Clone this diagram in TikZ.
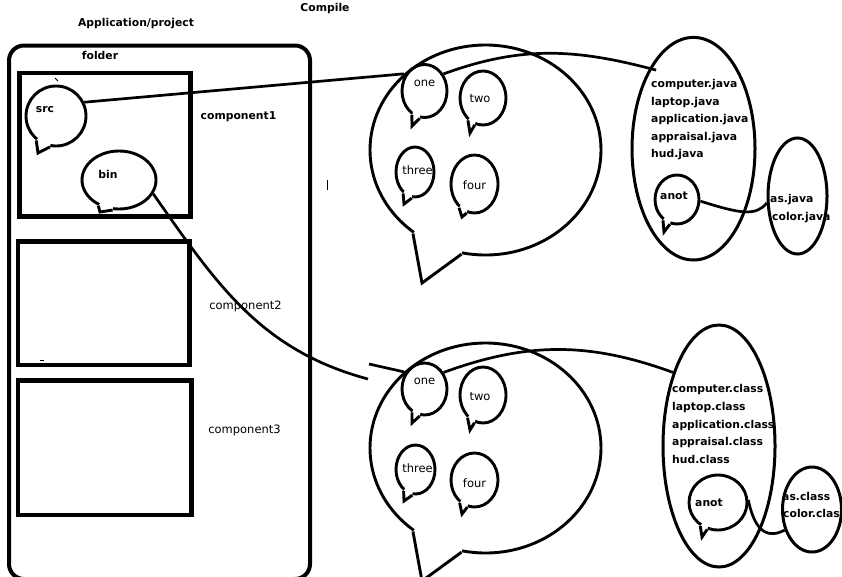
\documentclass[tikz,border=0pt]{standalone}
\usepackage{fontspec}
\setmainfont{DejaVu Sans}
\usetikzlibrary{shapes.geometric}

\tikzset{
  bubble/.style={draw, ellipse, line width=2.9pt, inner sep=0pt},
  conn/.style={line width=2.7pt},
  boldtxt/.style={font=\bfseries\fontsize{10.8}{13}\selectfont, inner sep=0pt},
  normtxt/.style={font=\fontsize{11.5}{13}\selectfont, inner sep=0pt}
}

\begin{document}
\begin{tikzpicture}[x=1pt, y=-1pt]

% page
\fill[white] (0,0) rectangle (842,576);
\useasboundingbox (0,0) rectangle (842,576);

% project folder and the three components
\draw[line width=4pt, rounded corners=15pt] (9,45.5) rectangle (310,579);
\draw[line width=4.5pt] (19.7,73) rectangle (190.5,216.5);
\draw[line width=4.5pt] (18,241.3) rectangle (189.5,365);
\draw[line width=4.5pt] (18,380.5) rectangle (191.5,515);

% speech bubbles: name/centre/radii/tip/tail angles
\foreach \name/\cx/\cy/\rx/\ry/\tx/\ty/\aa/\ab in {
    big1/485.5/150/115.5/105/422/283/229/257,
    big2/485.5/448/115.5/105/422/581/229/257,
    src/56/116/30/30/38/153/231/259,
    bin/119/180/37/29/100/212/231/258,
    one1/424.5/91/22.5/26.5/412/126/242/260,
    two1/483/98/23/27/470/133/236/253,
    three1/415/172/19/25/404/204/241/263,
    four1/474.5/184/23.5/29/462/217/237/255,
    one2/424.5/389/22.5/26/412/423/242/260,
    two2/483/395/23/28/470/430/236/253,
    three2/415.5/469.5/19.5/24.5/404/501/241/263,
    four2/474.5/480/23.5/27/462/514/237/255,
    anot1/677/199.5/22/24.5/664/232/236/254,
    anot2/718/502.5/29/27.5/702/537/233/248} {
  \node[bubble, minimum width=2*\rx, minimum height=2*\ry] (\name) at (\cx,\cy) {};
  % open the outline where the tail starts
  \fill[white] (\name.center) -- (\name.\aa) -- (\tx,\ty) -- (\name.\ab) -- cycle;
  \draw[line width=2.9pt] (\name.\aa) -- (\tx,\ty) -- (\name.\ab);
}

% file groups
\node[bubble, line width=3pt, minimum width=123, minimum height=222.6] (java) at (693.5,148.7) {};
\node[bubble, line width=3pt, minimum width=112, minimum height=242] (cls) at (719,446) {};
\node[bubble, line width=3pt, minimum width=59, minimum height=116] (asj) at (797.5,196) {};
\node[bubble, line width=3pt, minimum width=59, minimum height=85] (asc) at (812,509.5) {};

% connectors
\coordinate (stub) at (369,364);
\coordinate (binend) at (368,379);
\draw[conn] (src.26) -- (big1.137);
\draw[conn] (stub) -- (big2.137);
\draw[conn] (bin.338) to[out=-55, in=165] (binend);
\draw[conn] (one1.42) to[out=20, in=165] ([shift={(3,8)}]java.115);
\draw[conn] (one2.41) to[out=20, in=160] (cls.122);
\draw[conn] (anot1.356) .. controls +(41,13) and +(-11,13) .. (asj.193);
\draw[conn] (anot2.5) .. controls +(5,25) and +(-21,11) .. (asc.217);

% stray marks
\draw[line width=1pt] (55,78) -- (58,81);
\draw[line width=1pt] (40,360) -- (44,360);
\draw[line width=1pt] (327,180) -- (327,190);

% labels
\node[boldtxt] (title) at (136,24) {Application/project};
\node[boldtxt] (compile) at (325,9) {Compile};
\node[boldtxt] (folder) at (100,55) {folder};
\node[boldtxt] (comp1) at (238.5,117) {component1};
\node[normtxt] (comp2) at (245.5,306.7) {component2};
\node[normtxt] (comp3) at (244.5,430.7) {component3};
\node[boldtxt] (src-t) at (45,110) {src};
\node[boldtxt] (bin-t) at (108,174) {bin};
\node[boldtxt] (anot1-t) at (674,195.7) {anot};
\node[boldtxt] (anot2-t) at (709,503) {anot};

\foreach \n/\x/\y in {one/424.5/83, two/480/99, three/417.5/170.7, four/474.5/185.7} {
  \node[normtxt] (\n-up) at (\x,\y) {\n};
  \node[normtxt] (\n-dn) at (\x,\y+298) {\n};
}

\foreach \f [count=\i] in {computer,laptop,application,appraisal,hud} {
  \node[boldtxt, anchor=base west] (java\i) at (651,87.5+17.6*\i-17.6) {\f.java};
  \node[boldtxt, anchor=base west] (class\i) at (672,392.5+17.8*\i-17.8) {\f.class};
}

\node[boldtxt, anchor=base west] (asj-t) at (770,202.5) {as.java};
\node[boldtxt, anchor=base west] (colj-t) at (772,220.5) {color.java};
\node[boldtxt, anchor=base west] (asc-t) at (782,500.5) {as.class};
\node[boldtxt, anchor=base west] (colc-t) at (783,517.5) {color.clas};

\end{tikzpicture}
\end{document}
